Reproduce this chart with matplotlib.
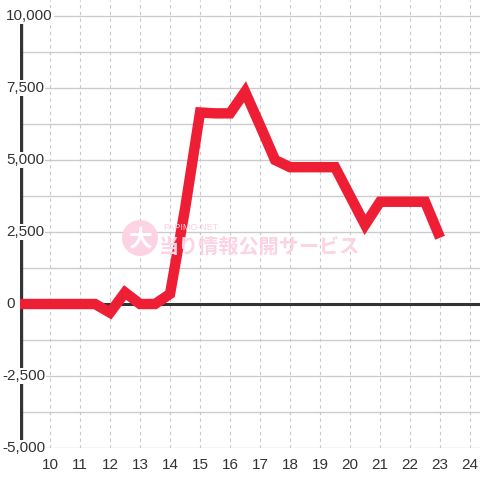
import matplotlib.pyplot as plt
from matplotlib.patches import Circle

# hourly values (half-hour steps)
hours = [9, 9.5, 10, 10.5, 11, 11.5, 12, 12.5, 13, 13.5, 14, 14.5, 15, 15.5, 16,
         16.5, 17, 17.5, 18, 18.5, 19, 19.5, 20, 20.5, 21, 21.5, 22, 22.5, 23]
values = [0, 0, 0, 0, 0, 0, -300, 400, 0, 0, 350, 3300, 6650, 6620, 6620,
          7370, 6200, 5000, 4750, 4750, 4750, 4750, 3750, 2750, 3550, 3550, 3550, 3550, 2300]

x_ticks = list(range(10, 25))
y_ticks = [-5000, -2500, 0, 2500, 5000, 7500, 10000]
y_grid = [-5000 + 1250 * i for i in range(13)]

plt.rcParams['font.family'] = ['Liberation Sans', 'DejaVu Sans']

fig = plt.figure(figsize=(4.8, 4.8), dpi=100)
ax = fig.add_axes([20 / 480, 32 / 480, 460 / 480, 448 / 480])
ax.set_xlim(9, 24.33)
ax.set_ylim(-5000, 10000 + 16 / 72 * 2500)
for s in ax.spines.values():
    s.set_visible(False)
ax.set_xticks([])
ax.set_yticks([])

# grid
for g in y_grid:
    ax.axhline(g, color='#cccccc', lw=1, zorder=1)
for t in x_ticks:
    ax.axvline(t, color='#c8c8c8', lw=0.8, ls=(0, (3, 3)), zorder=1)

# axes lines
ax.plot([9.03, 9.03], [-5000, 9750], color='#333333', lw=2.4, zorder=2, solid_capstyle='butt')
ax.axhline(0, color='#333333', lw=2.2, zorder=2)

# watermark
ax.add_patch(Circle((140 / 480, 1 - 238 / 480), 18 / 480, transform=fig.transFigure,
                    color='#fbd3e3', zorder=3, lw=0))
fig.text(140 / 480, 1 - 240 / 480, '大', color='white', fontsize=17, fontweight='bold',
         ha='center', va='center', family=['Noto Sans CJK JP'], zorder=4)
fig.text(163 / 480, 1 - 227 / 480, 'PAPIMO-NET', color='#fbd3e3', fontsize=6.5,
         ha='left', va='center', zorder=4)
fig.text(159 / 480, 1 - 246 / 480, '当り情報公開サービス', color='#fbd3e3', fontsize=14.5,
         fontweight='bold', ha='left', va='center', family=['Noto Sans CJK JP'], zorder=4)

# data line
ax.plot(hours, values, color='#ee1f35', lw=7.5, zorder=5, solid_joinstyle='miter',
        solid_capstyle='butt')

# tick labels
for v in y_ticks:
    lx = 8.4 if v < 0 else 8.53
    ax.text(lx, v, f'{v:,}', ha='left', va='center', fontsize=11, color='#333333',
            zorder=3, clip_on=False,
            bbox=dict(facecolor='white', edgecolor='none', pad=0.8))
for t in x_ticks:
    ax.text(t, -5600, str(t), ha='center', va='center', fontsize=11, color='#333333',
            clip_on=False)

fig.savefig('out.png', dpi=100)
